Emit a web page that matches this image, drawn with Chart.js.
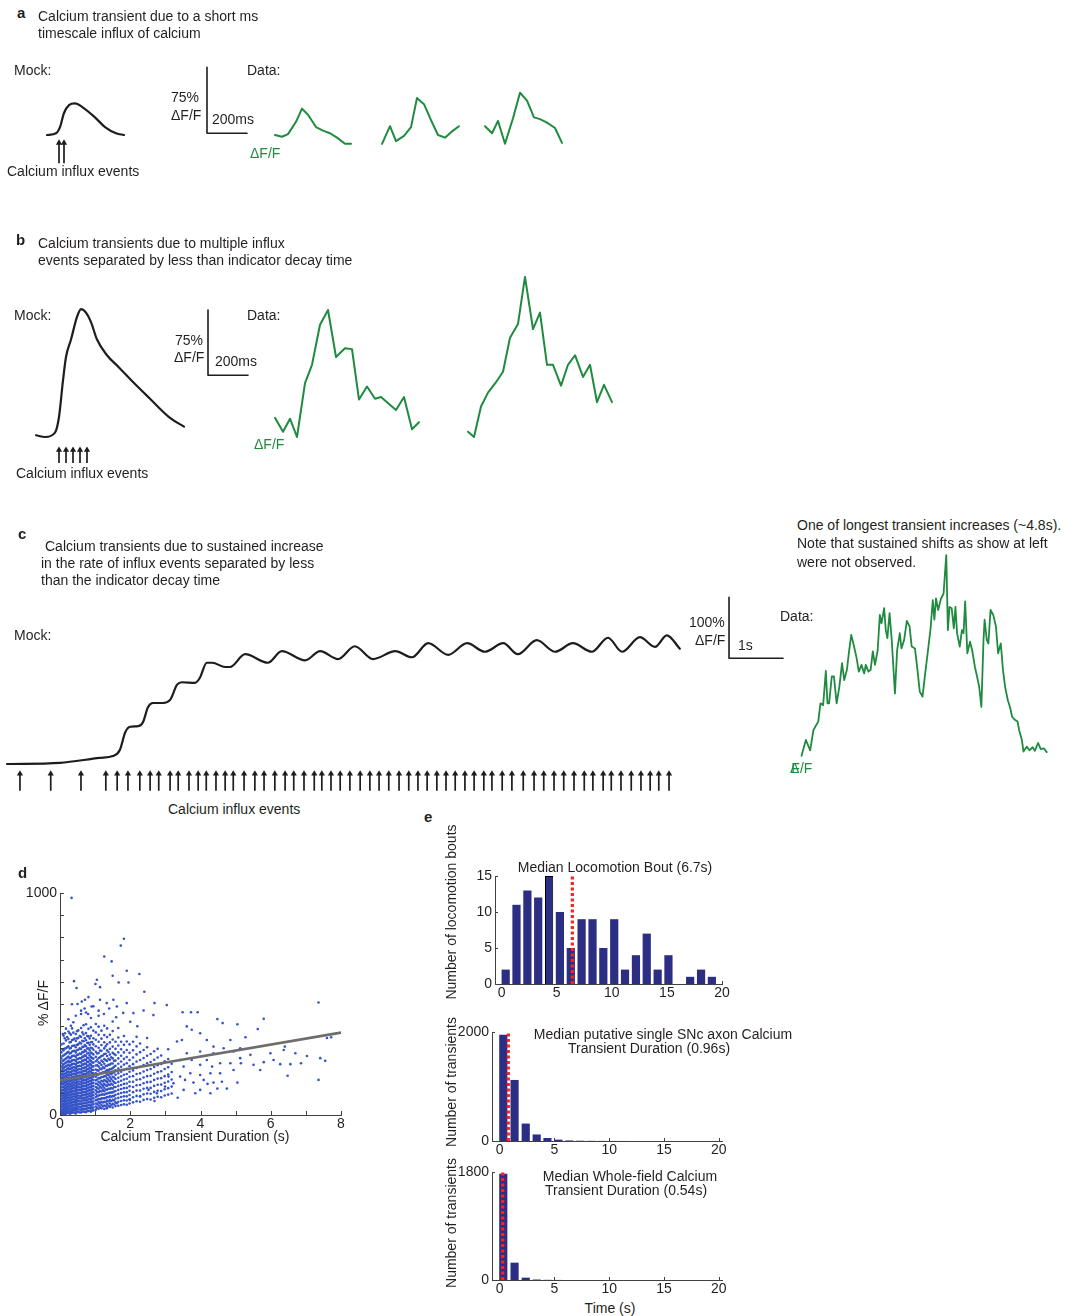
<!DOCTYPE html>
<html><head><meta charset="utf-8">
<script src="https://cdn.jsdelivr.net/npm/chart.js@4.4.1/dist/chart.umd.min.js"></script>
<style>
html,body{margin:0;padding:0;background:#fff}
#fig{position:relative;width:1077px;height:1316px;background:#fff;overflow:hidden}
#fig canvas{position:absolute}
.t{position:absolute;font-family:'Liberation Sans',Arial,Helvetica,sans-serif;font-size:14px;line-height:16px;color:#231f20;white-space:nowrap}
.b{font-weight:bold;font-size:15px}
.g{color:#1f8b3f}
.c{transform:translate(-50%,-50%)}
.r{transform:translate(-50%,-50%) rotate(-90deg)}
</style></head><body>
<div id="fig">
<canvas id="cA" width="620" height="130" style="left:0;top:55px"></canvas>
<canvas id="cB" width="640" height="205" style="left:0;top:265px"></canvas>
<canvas id="cC" width="690" height="200" style="left:0;top:600px"></canvas>
<canvas id="cC2" width="387" height="240" style="left:690px;top:540px"></canvas>
<canvas id="cD" width="360" height="265" style="left:0;top:880px"></canvas>
<canvas id="cE1" width="285" height="150" style="left:455px;top:855px"></canvas>
<canvas id="cE2" width="285" height="140" style="left:455px;top:1020px"></canvas>
<canvas id="cE3" width="285" height="140" style="left:455px;top:1160px"></canvas>

<div class="t b" style="left:17px;top:5px">a</div>
<div class="t" style="left:38px;top:8px">Calcium transient due to a short ms</div>
<div class="t" style="left:38px;top:25px">timescale influx of calcium</div>
<div class="t" style="left:14px;top:62px">Mock:</div>
<div class="t" style="left:7px;top:163px">Calcium influx events</div>
<div class="t" style="left:171px;top:89px">75%</div>
<div class="t" style="left:171px;top:107px">ΔF/F</div>
<div class="t" style="left:212px;top:111px">200ms</div>
<div class="t" style="left:247px;top:62px">Data:</div>
<div class="t g" style="left:250px;top:145px">ΔF/F</div>

<div class="t b" style="left:16px;top:232px">b</div>
<div class="t" style="left:38px;top:235px">Calcium transients due to multiple influx</div>
<div class="t" style="left:38px;top:252px">events separated by less than indicator decay time</div>
<div class="t" style="left:14px;top:307px">Mock:</div>
<div class="t" style="left:16px;top:465px">Calcium influx events</div>
<div class="t" style="left:175px;top:332px">75%</div>
<div class="t" style="left:174px;top:349px">ΔF/F</div>
<div class="t" style="left:215px;top:353px">200ms</div>
<div class="t" style="left:247px;top:307px">Data:</div>
<div class="t g" style="left:254px;top:436px">ΔF/F</div>

<div class="t b" style="left:18px;top:526px">c</div>
<div class="t" style="left:45px;top:538px">Calcium transients due to sustained increase</div>
<div class="t" style="left:41px;top:555px">in the rate of influx events separated by less</div>
<div class="t" style="left:41px;top:572px">than the indicator decay time</div>
<div class="t" style="left:14px;top:627px">Mock:</div>
<div class="t" style="left:168px;top:801px">Calcium influx events</div>
<div class="t" style="left:689px;top:614px">100%</div>
<div class="t" style="left:695px;top:632px">ΔF/F</div>
<div class="t" style="left:738px;top:637px">1s</div>
<div class="t" style="left:797px;top:517px">One of longest transient increases (~4.8s).</div>
<div class="t" style="left:797px;top:535px">Note that sustained shifts as show at left</div>
<div class="t" style="left:797px;top:554px">were not observed.</div>
<div class="t" style="left:780px;top:608px">Data:</div>
<div class="t g" style="left:790px;top:760px"><span style="letter-spacing:-8px">Δ</span>F/F</div>

<div class="t b" style="left:18px;top:865px">d</div>
<div class="t r" style="left:43px;top:1003px">% ΔF/F</div>
<div class="t c" style="left:195px;top:1136px">Calcium Transient Duration (s)</div>

<div class="t b" style="left:424px;top:809px">e</div>
<div class="t r" style="left:451px;top:912px">Number of locomotion bouts</div>
<div class="t c" style="left:615px;top:867px">Median Locomotion Bout (6.7s)</div>
<div class="t r" style="left:451px;top:1082px">Number of transients</div>
<div class="t c" style="left:663px;top:1034px">Median putative single SNc axon Calcium</div>
<div class="t c" style="left:649px;top:1048px">Transient Duration (0.96s)</div>
<div class="t r" style="left:451px;top:1223px">Number of transients</div>
<div class="t c" style="left:630px;top:1176px">Median Whole-field Calcium</div>
<div class="t c" style="left:626px;top:1190px">Transient Duration (0.54s)</div>
<div class="t c" style="left:610px;top:1308px">Time (s)</div>
</div>

<script>
// ================= DATA =================
// Panel a  (time in ms, signal in % dF/F)
const mockAX = [235,280,300,320,345,375,410,475,525,580,620];
const mockAY = [0,2,9,25,34,36,32,20,9,2,0];
const eventsA = [295,320];
const dataA1X = [1375,1410,1440,1480,1510,1540,1580,1615,1650,1685,1725,1755];
const dataA1Y = [0,-2,1,15,30,23,9,5,2,-3,-10,-10];
const dataA2X = [1910,1950,1980,2020,2055,2085,2120,2155,2190,2225,2265,2295];
const dataA2Y = [-10,10,-7,-1,9,42,35,17,0,-3,5,10];
const dataA3X = [2425,2460,2490,2525,2565,2600,2635,2670,2700,2735,2775,2810];
const dataA3Y = [10,2,16,-10,19,48,39,20,18,14,8,-9];
const scaleBarAB = [200, 75];   // [ms, % dF/F]

// Panel b
const mockBX = [180,225,275,295,315,330,355,385,405,430,455,485,535,595,670,750,850,920];
const mockBY = [2,0,5,23,65,92,112,138,147,143,132,112,94,80,62,44,22,12];
const eventsB = [295,330,365,400,435];
const dataB1X = [1375,1415,1450,1485,1525,1560,1600,1640,1680,1725,1760,1795,1835,1875,1905,1945,1980,2020,2060,2095];
const dataB1Y = [22,6,21,0,62,83,129,146,92,102,101,43,58,44,46,38,31,46,9,17];
const dataB2X = [2340,2370,2405,2440,2480,2515,2550,2590,2625,2665,2700,2735,2765,2805,2840,2875,2915,2950,2985,3020,3060];
const dataB2Y = [6,0,35,51,63,75,114,130,184,124,143,83,83,59,83,94,69,83,40,60,40];

// Panel c  (time in s, signal in % dF/F)
const mockCX = [0,0.98,1.72,1.96,2.09,2.19,2.28,2.43,2.52,2.61,2.70,2.89,3.02,3.15,3.24,3.48,3.57,3.70,3.80,4.04,4.13,4.41,4.83,5.09,5.52,5.80,6.13,6.44,6.78,7.19,7.50,7.80,8.17,8.52,8.85,9.19,9.46,9.81,10.15,10.48,10.83,11.13,11.39,11.72,12.0,12.22,12.46];
const mockCY = [0,2,10,13,23,52,61,62,69,93,100,100,105,130,134,133,141,166,166,159,159,180,166,185,170,185,172,193,172,185,175,198,179,198,184,198,180,203,184,198,184,207,184,208,192,211,189];
const eventsC = [0.24,0.81,1.37,1.83,2.04,2.24,2.46,2.65,2.81,3.02,3.17,3.37,3.54,3.69,3.87,4.04,4.19,4.39,4.59,4.76,4.96,5.15,5.31,5.5,5.69,5.83,6.0,6.17,6.35,6.54,6.72,6.89,7.07,7.26,7.44,7.61,7.78,7.96,8.13,8.3,8.48,8.65,8.83,8.98,9.17,9.35,9.56,9.76,9.94,10.13,10.31,10.5,10.69,10.85,11.04,11.19,11.37,11.56,11.74,11.91,12.07,12.26];
const dataCX = [0.01,0.09,0.17,0.23,0.28,0.32,0.36,0.41,0.46,0.49,0.52,0.57,0.61,0.66,0.71,0.76,0.80,0.85,0.89,0.93,0.97,1.03,1.07,1.12,1.17,1.20,1.25,1.29,1.33,1.37,1.42,1.46,1.49,1.54,1.57,1.60,1.64,1.68,1.74,1.78,1.83,1.86,1.91,1.96,2.01,2.05,2.11,2.15,2.20,2.25,2.30,2.36,2.40,2.44,2.47,2.50,2.54,2.59,2.64,2.69,2.72,2.75,2.79,2.83,2.86,2.89,2.94,2.98,3.01,3.04,3.08,3.13,3.17,3.22,3.26,3.30,3.34,3.38,3.40,3.44,3.47,3.51,3.56,3.61,3.65,3.70,3.74,3.78,3.83,3.87,3.91,3.96,4.01,4.04,4.09,4.12,4.18,4.23,4.29,4.33,4.39,4.44,4.50,4.55];
const dataCY = [2,28,11,44,52,58,88,85,141,88,88,132,132,88,115,154,126,143,173,200,186,162,140,151,137,151,140,143,173,151,175,233,219,244,208,195,236,192,104,175,203,178,192,223,214,181,178,148,107,99,137,181,211,257,225,260,241,259,268,331,208,246,244,211,246,203,181,208,203,255,170,189,175,148,132,115,82,192,225,192,186,241,233,214,170,186,143,115,93,82,66,61,58,44,28,9,17,11,16,10,23,13,14,8];
const scaleBarC = [1, 100];   // [s, % dF/F]

// Panel d  (duration in s, % dF/F) - dense columns + sparse points
const scatterColX = [0.04,0.1,0.17,0.24,0.31,0.38,0.45,0.52,0.6,0.67,0.74,0.81,0.88,0.95,1.02,1.1,1.18,1.26,1.34,1.42,1.5,1.58,1.66,1.74,1.82,1.9,1.98,2.08,2.18,2.28,2.38,2.48,2.58,2.68,2.78,2.88,2.98,3.08,3.18,
  0.07,0.135,0.205,0.275,0.345,0.415,0.485,0.56,0.635,0.705,0.775,0.845,0.915,1.06,1.14,1.22,1.30,1.38,1.46,1.54];
const scatterColY = [
 [4,12,22,35,47,60,71,85,97,110,124,139,150,166,181,197,214,233,255,282,318],
 [2,9,17,28,40,51,63,76,88,99,113,126,140,152,167,180,196,211,228,246,268,291,322,357],
 [6,15,26,37,49,62,74,86,98,111,123,136,149,161,175,188,203,219,236,254,276,301,336,389],
 [10,20,31,44,56,68,80,93,105,118,130,143,156,169,182,196,211,227,244,263,285,309,342,376,431],
 [8,18,29,41,54,66,79,91,104,116,129,141,154,167,180,194,209,224,241,259,279,302,329,362,402],
 [12,23,35,47,59,72,84,97,109,122,135,147,160,173,187,201,215,231,248,267,288,312,340,371,418],
 [7,19,30,43,55,67,80,92,105,117,130,143,156,169,182,196,210,226,243,261,282,305,333,365,447],
 [14,26,38,50,63,75,88,100,113,126,138,151,164,177,191,205,220,236,253,272,294,318,347,381],
 [11,24,36,49,61,74,86,99,112,124,137,150,163,177,191,205,221,237,255,275,297,322,352,392,455],
 [16,28,40,53,66,78,91,104,117,130,143,156,169,183,197,212,228,245,263,283,306,332,363,404],
 [13,26,39,52,65,78,91,104,117,131,144,157,171,185,199,214,230,247,266,287,310,337,369,409,462],
 [18,31,44,57,70,83,96,110,123,136,150,164,178,192,207,223,240,258,278,300,325,354,388],
 [15,29,42,56,69,83,96,110,124,138,152,166,180,195,210,226,243,261,281,303,328,357,395,437],
 [21,34,48,61,75,89,103,117,131,145,159,173,188,203,219,236,254,273,294,318,346,380],
 [24,38,52,67,81,96,111,126,141,156,172,188,205,223,242,262,285,310,339,372,410],
 [28,43,58,73,88,103,118,134,150,166,183,200,218,237,257,279,303,330,361,398,447],
 [30,45,60,75,91,106,122,138,154,171,188,206,225,245,266,289,315,344,380],
 [27,43,59,75,91,107,123,140,157,174,192,211,231,252,275,300,328,360,402],
 [33,49,65,81,97,114,131,148,165,183,202,222,243,266,291,319,351,390],
 [36,52,68,85,101,118,135,152,170,188,207,227,249,272,298,327,361],
 [34,51,68,85,102,119,136,154,172,191,211,232,255,280,308,340,378,421],
 [40,57,74,91,108,126,144,162,181,201,222,245,270,298,330],
 [42,60,77,95,113,131,149,168,188,209,231,255,282,313,349,392],
 [45,63,81,99,117,135,154,174,195,217,241,267,296,330],
 [48,66,84,102,121,140,160,181,203,227,253,282,316,356],
 [46,65,84,103,122,142,163,185,208,233,261,293,331],
 [52,71,90,109,129,150,172,195,220,248,280,318],
 [57,80,103,126,150,175,201,229,259,292,330],
 [62,86,110,134,159,185,212,241,273,309,352],
 [60,85,110,135,161,188,217,248,283,322],
 [68,93,118,143,169,196,225,257,293],
 [72,97,122,148,175,203,233,267,305,347],
 [70,96,122,149,177,207,239,275],
 [78,104,131,158,186,216,249,287],
 [82,109,136,164,193,224,259,298],
 [80,108,137,166,197,230,268],
 [88,116,145,175,207,242],
 [92,121,151,182,215,252,296],
 [97,128,160,194,231],
 [7,15,26,38,50,63,75,88,101,114,128,142,156,171,187,203,222,243,266,295],
 [5,14,24,34,45,57,69,81,93,106,119,132,145,158,172,186,200,216,232,250,272,299,346],
 [9,19,30,42,53,65,78,90,102,115,127,140,153,166,179,193,207,223,240,259,281,306,351],
 [6,16,27,39,51,63,76,88,101,113,126,138,151,164,178,191,206,221,238,256,277,300,327,368],
 [11,21,33,45,57,70,82,95,107,120,132,145,158,171,185,199,213,229,246,265,286,311,338,390],
 [9,22,33,46,58,70,83,95,108,121,133,146,159,172,186,200,215,231,248,267,289,313,344],
 [13,25,37,48,61,73,86,98,111,124,136,149,162,175,189,203,218,234,251,270,292,316,345,377],
 [12,25,37,50,62,75,87,100,113,125,138,151,164,178,192,207,222,239,257,277,300,326,356],
 [15,27,40,52,65,77,90,103,116,129,142,155,168,182,196,211,227,244,262,283,307,334,372],
 [14,27,40,53,66,79,92,105,118,131,145,158,172,186,200,215,232,250,269,291,315,346],
 [17,30,43,56,69,82,95,108,122,135,149,163,177,191,206,222,239,257,277,299,324,356],
 [19,32,45,58,72,85,98,112,126,140,154,168,183,198,214,231,249,269,291,316,345],
 [20,33,47,60,74,88,101,115,129,144,158,173,188,203,219,237,256,277,301,329],
 [32,50,68,86,104,122,141,160,180,201,224,249,277],
 [35,53,71,90,108,127,146,166,187,209,233,260,290],
 [38,56,75,93,112,131,151,171,192,215,240,268],
 [40,58,77,96,115,134,154,175,197,221,247,276,310],
 [42,61,80,99,118,138,158,179,202,226,253,284],
 [44,63,82,101,121,141,162,184,207,232,260],
 [47,66,86,106,126,147,169,192,217,244,275]
];
const outlierX = [0.33,1.82,1.73,1.26,1.47,1.5,1.9,2.26,1.95,1.67,1.05,1.01,1.14,0.4,0.47,0.34,2.4,2.69,3.04,3.49,3.73,3.92,4.48,4.63,5.05,5.63,5.8,5.28,7.36,7.6,7.72,7.41,7.55,7.36,6.48,6.37,6.4,5.99,6.27,6.56,6.86,5.8,5.51,5.15,5.05,4.75,4.48,4.2,3.85,3.35,2.69,5.13,4.85,4.66,4.37,4.18,3.99,3.75,3.61,3.47,3.33,3.99,4.18,4.37,4.56,4.85,5.13,5.42,4.94,4.56,4.28,3.99,3.71,3.52,3.75,3.61,3.42,3.99,4.33,4.61,4.37,4.09,3.8,3.56,3.42,3.23,3.09,2.99,2.76,2.52,2.28,1.99,1.62,1.33,3.99,4.28,3.52,4.94,5.7,6.08,7.03,6.7,2.66,2.09,2.38,1.62,1.9,0.81,0.71,0.62,0.9,1.14,1.33,1.52,0.14,0.08,1.1,1.25,1.4,1.6,1.8,2.0,2.2,0.6,0.8,0.95,0.5,0.7];
const outlierY = [978,794,763,714,692,627,650,635,597,597,609,590,576,603,572,499,555,504,495,463,463,463,432,414,409,387,433,350,507,347,350,256,244,158,177,293,308,278,229,229,233,238,226,233,146,119,119,140,98,78,63,301,338,301,308,338,368,384,399,338,331,286,248,278,233,233,256,271,203,188,188,180,188,218,248,278,248,226,218,150,146,158,146,158,173,143,173,128,98,113,83,68,53,30,113,98,113,286,203,248,266,278,450,459,471,489,504,531,519,511,489,519,504,519,368,365,470,455,480,440,460,420,400,470,455,490,500,480];
const trendX = [0, 8];
const trendY = [155, 371];

// Panel e  (histograms, x in s)
const locoCenters = [0.37,1.35,2.34,3.32,4.31,5.29,6.28,7.26,8.25,9.23,10.22,11.2,12.19,13.17,14.16,15.14,16.13,17.11,18.1,19.08];
const locoCounts = [2,11,13,12,15,10,5,9,9,5,9,2,4,7,2,4,0,1,2,1];
const locoMedian = 6.42;
const transCenters = [0.33,1.36,2.38,3.38,4.36,5.36,6.36,7.36,8.36,9.36,10.36,11.36,12.36,13.36,14.36,15.36,16.36,17.36,18.36,19.36];
const singleCounts = [1950,1120,320,120,55,25,10,5,3,2,1,1,0,0,0,0,0,0,0,0];
const singleMedian = 0.79;
const wholeCounts = [1770,289,39,8,3,1,0,0,0,0,0,0,0,0,0,0,0,0,0,0];
const wholeMedian = 0.28;

// ================= RENDERING =================
Chart.defaults.font.family = "'Liberation Sans', Arial, Helvetica, sans-serif";
Chart.defaults.font.size = 14;
Chart.defaults.color = '#231f20';
Chart.defaults.animation = false;

const INK = '#1d1d1b', GREEN = '#1f8b3f', BLUE = '#3553c7', NAVY = '#2b2e82', RED = '#ff2020', AXIS = '#404040', TXT = '#231f20';

function hRange(anchorPx, anchorVal, pxPerUnit, startPx, sizePx) {
  return {min: anchorVal + (startPx - anchorPx) / pxPerUnit, max: anchorVal + (startPx + sizePx - anchorPx) / pxPerUnit};
}
function vRange(anchorPx, anchorVal, pxPerUnit, startPx, sizePx) {
  return {min: anchorVal - (startPx + sizePx - anchorPx) / pxPerUnit, max: anchorVal + (anchorPx - startPx) / pxPerUnit};
}
const pts = (xs, ys) => xs.map((x, i) => ({x, y: ys[i]}));
function lineDs(xs, ys, color, width, smooth) {
  return {data: pts(xs, ys), showLine: true, borderColor: color, borderWidth: width, pointRadius: 0,
    cubicInterpolationMode: smooth ? 'monotone' : 'default', tension: 0, fill: false,
    borderJoinStyle: 'round', borderCapStyle: 'round'};
}
function arrowDs(xs, base, tip, head) {
  const data = [];
  xs.forEach(x => { data.push({x, y: base}, {x, y: tip, head: true}, {x, y: null}); });
  return {data, showLine: true, spanGaps: false, borderColor: INK, borderWidth: 1.7,
    pointStyle: 'triangle', pointRadius: c => (c.raw && c.raw.head) ? head : 0,
    pointBackgroundColor: INK, pointBorderColor: INK, pointBorderWidth: 0};
}
function scaleBarDs(x0, y0, bar) {
  return lineDs([x0, x0, x0 + bar[0]], [y0 + bar[1], y0, y0], INK, 1.6, false);
}
function schematic(id, xr, yr, datasets) {
  return new Chart(document.getElementById(id), {
    type: 'scatter', data: {datasets},
    options: {responsive: false, animation: false, events: [], layout: {padding: 0},
      plugins: {legend: {display: false}, tooltip: {enabled: false}},
      scales: {x: {type: 'linear', display: false, min: xr.min, max: xr.max},
               y: {type: 'linear', display: false, min: yr.min, max: yr.max}}}
  });
}

// a
schematic('cA', hRange(0, 0, 0.2, 0, 620), vRange(135, 0, 0.88, 55, 130), [
  lineDs(mockAX, mockAY, INK, 2.2, true),
  arrowDs(eventsA, -32, -9, 3.6),
  scaleBarDs(1035, 2, scaleBarAB),
  lineDs(dataA1X, dataA1Y, GREEN, 2),
  lineDs(dataA2X, dataA2Y, GREEN, 2),
  lineDs(dataA3X, dataA3Y, GREEN, 2)
]);
// b
schematic('cB', hRange(0, 0, 0.2, 0, 640), vRange(437, 0, 0.87, 265, 205), [
  lineDs(mockBX, mockBY, INK, 2.2, true),
  arrowDs(eventsB, -30, -15, 3.6),
  scaleBarDs(1040, 71, scaleBarAB),
  lineDs(dataB1X, dataB1Y, GREEN, 2),
  lineDs(dataB2X, dataB2Y, GREEN, 2)
]);
// c mock
schematic('cC', hRange(7, 0, 54, 0, 690), vRange(764, 0, 0.61, 600, 200), [
  lineDs(mockCX, mockCY, INK, 2.2, true),
  arrowDs(eventsC, -44, -16, 3.6)
]);
// c data
schematic('cC2', hRange(801, 0, 54, 690, 387), vRange(757, 0, 0.61, 540, 240), [
  scaleBarDs(-1.333, 162, scaleBarC),
  lineDs(dataCX, dataCY, GREEN, 1.8)
]);

// inward (MATLAB style) tick marks drawn from the library's own scale ticks
const inwardTicks = {
  id: 'inwardTicks',
  afterDatasetsDraw(chart, args, o) {
    if (!o || !o.len) return;
    const {ctx, chartArea: a} = chart, xs = chart.scales.x, ys = chart.scales.y;
    ctx.save(); ctx.strokeStyle = o.color; ctx.lineWidth = 1;
    xs.ticks.forEach(t => { const p = Math.round(xs.getPixelForValue(t.value)) + 0.5;
      ctx.beginPath(); ctx.moveTo(p, a.bottom); ctx.lineTo(p, a.bottom - o.len); ctx.stroke(); });
    ys.ticks.forEach(t => { const p = Math.round(ys.getPixelForValue(t.value)) + 0.5;
      ctx.beginPath(); ctx.moveTo(a.left, p); ctx.lineTo(a.left + o.len, p); ctx.stroke(); });
    ctx.restore();
  }
};
function axisX(min, max, step, height, cb, pad) {
  return {type: 'linear', min, max, offset: false,
    grid: {display: false, drawTicks: false}, border: {display: true, color: AXIS, width: 1},
    ticks: {stepSize: step, autoSkip: false, maxRotation: 0, includeBounds: false, padding: pad, color: TXT, callback: cb},
    afterFit: s => { s.height = height; }};
}
function axisY(min, max, step, width, cb) {
  return {type: 'linear', min, max,
    grid: {display: false, drawTicks: false}, border: {display: true, color: AXIS, width: 1},
    ticks: {stepSize: step, autoSkip: false, includeBounds: false, padding: 3, color: TXT, callback: cb},
    afterFit: s => { s.width = width; }};
}

// d scatter
const scatterPts = [];
scatterColX.forEach((x, i) => scatterColY[i].forEach(y => scatterPts.push({x, y})));
outlierX.forEach((x, i) => scatterPts.push({x, y: outlierY[i]}));
new Chart(document.getElementById('cD'), {
  type: 'scatter',
  data: {datasets: [
    {data: pts(trendX, trendY), showLine: true, borderColor: '#6d6d6d', borderWidth: 2.6, pointRadius: 0, order: 0},
    {data: scatterPts, pointRadius: 1.3, backgroundColor: BLUE, pointBackgroundColor: BLUE, pointBorderWidth: 0, borderWidth: 0, order: 1}
  ]},
  options: {responsive: false, animation: false, events: [],
    layout: {padding: {top: 13, right: 19, left: 0, bottom: 0}},
    plugins: {legend: {display: false}, tooltip: {enabled: false}, inwardTicks: {len: 4, color: AXIS}},
    scales: {
      x: axisX(0, 8, 1, 30, v => (v % 2 === 0 ? String(v) : ''), 1),
      y: axisY(0, 1000, 100, 60, v => ((v === 0 || v === 1000) ? String(v) : ''))
    }},
  plugins: [inwardTicks]
});

// e histograms
function histChart(id, centers, counts, median, xr, ymax, ystep, padTop, yW, xH, outlineIdx) {
  return new Chart(document.getElementById(id), {
    type: 'bar',
    data: {datasets: [
      {type: 'line', data: [{x: median, y: 0}, {x: median, y: ymax}], borderColor: RED, borderWidth: 3.2,
        borderDash: [3, 2.5], pointRadius: 0, order: 0},
      {type: 'bar', data: pts(centers, counts), backgroundColor: NAVY,
        borderColor: '#000', borderWidth: c => (c.dataIndex === outlineIdx ? 1 : 0),
        barPercentage: 0.76, categoryPercentage: 1, order: 1}
    ]},
    options: {responsive: false, animation: false, events: [],
      layout: {padding: {top: padTop, right: 18, left: 0, bottom: 0}},
      plugins: {legend: {display: false}, tooltip: {enabled: false}, inwardTicks: {len: 3, color: AXIS}},
      scales: {
        x: axisX(xr[0], xr[1], 5, xH, v => String(v), 1),
        y: axisY(0, ymax, ystep, yW, v => String(v))
      }},
    plugins: [inwardTicks]
  });
}
histChart('cE1', locoCenters, locoCounts, locoMedian, [-0.6, 20], 15, 5, 21, 40, 21, 4);
histChart('cE2', transCenters, singleCounts, singleMedian, [-0.7, 20.3], 2000, 2000, 12, 37, 19, -1);
histChart('cE3', transCenters, wholeCounts, wholeMedian, [-0.7, 20.3], 1800, 1800, 12, 37, 20, -1);
</script>
</body></html>
